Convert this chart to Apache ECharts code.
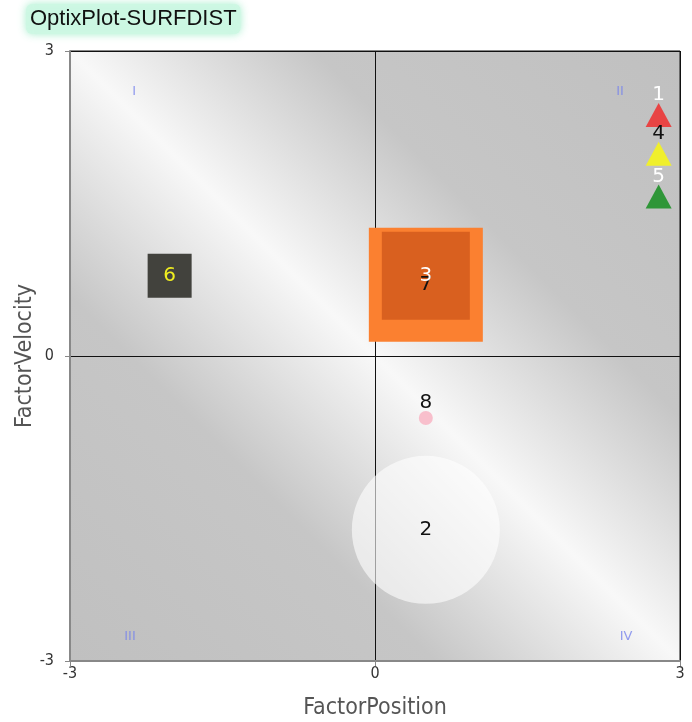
<!DOCTYPE html>
<html lang="en">
<head>
  <meta charset="UTF-8">
  <title>OptixPlot-SURFDIST</title>
  <script src="https://cdn.jsdelivr.net/npm/echarts@6/dist/echarts.min.js"></script>
  <style>
    html, body { margin: 0; padding: 0; background: #fff; }
    #chart { width: 692px; height: 722px; }
  </style>
</head>
<body>
  <div id="chart"></div>
  <script>
    // point data
    var pointNames = ['1', '2', '3', '4', '5', '6', '7', '8'];
    var pointX = [2.79, 0.5, 0.5, 2.79, 2.79, -2.02, 0.5, 0.5];
    var pointY = [2.37, -1.71, 0.79, 1.99, 1.57, 0.79, 0.70, -0.61];

    // quadrant captions
    var quadNames = ['I', 'II', 'III', 'IV'];
    var quadX = [-2.37, 2.41, -2.41, 2.47];
    var quadY = [2.6, 2.6, -2.76, -2.76];

    var axisTicks = [-3, 0, 3];

    var chart = echarts.init(document.getElementById('chart'));

    // look of each point, by name
    var looks = {
      '1': { symbol: 'triangle', size: [26, 24], color: '#e84444', label: '#ffffff', pos: 'top' },
      '2': { symbol: 'circle', size: 148, color: 'rgba(255,255,255,0.6)', label: '#111111', pos: 'inside' },
      '3': { symbol: 'rect', size: 88, color: '#d9601f', label: '#ffffff', pos: 'inside' },
      '4': { symbol: 'triangle', size: [26, 24], color: '#f0ef2c', label: '#111111', pos: 'top' },
      '5': { symbol: 'triangle', size: [26, 24], color: '#2f9638', label: '#ffffff', pos: 'top' },
      '6': { symbol: 'rect', size: 44, color: '#42423d', label: '#f0ee20', pos: 'inside' },
      '7': { symbol: 'rect', size: 114, color: '#fb8030', label: '#111111', pos: 'inside' },
      '8': { symbol: 'circle', size: 14, color: '#f8bfcc', label: '#111111', pos: 'top' }
    };

    // draw order: big shapes first
    var order = ['7', '3', '2', '6', '8', '1', '4', '5'];
    var series = order.map(function (n) {
      var i = pointNames.indexOf(n);
      var lk = looks[n];
      return {
        name: n,
        type: 'scatter',
        symbol: lk.symbol,
        symbolSize: lk.size,
        itemStyle: { color: lk.color, opacity: 1 },
        z: 3,
        label: {
          show: true,
          formatter: n,
          position: lk.pos,
          distance: -2,
          color: lk.label,
          fontFamily: 'DejaVu Sans',
          fontSize: 20
        },
        data: [[pointX[i], pointY[i]]]
      };
    });

    // quadrant captions as label-only points
    series.push({
      type: 'scatter',
      symbolSize: 0,
      z: 4,
      label: {
        show: true,
        formatter: function (p) { return p.name; },
        color: '#7884ec',
        fontFamily: 'DejaVu Sans',
        fontSize: 13
      },
      data: quadNames.map(function (q, i) {
        return { name: q, value: [quadX[i], quadY[i]] };
      })
    });

    var option = {
      animation: false,
      title: {
        text: 'OptixPlot-SURFDIST',
        left: 26,
        top: 4,
        padding: [4, 4],
        backgroundColor: 'rgba(205,248,228,0.95)',
        shadowColor: 'rgba(150,235,195,0.9)',
        shadowBlur: 8,
        borderRadius: 6,
        textStyle: {
          fontFamily: 'Liberation Sans',
          fontWeight: 'normal',
          fontSize: 22,
          color: '#111'
        }
      },
      grid: {
        left: 70,
        right: 12,
        top: 51,
        bottom: 61,
        outerBoundsMode: 'none',
        containLabel: false,
        show: true,
        borderColor: '#111',
        borderWidth: 1,
        backgroundColor: {
          type: 'linear', x: 0, y: 1, x2: 1, y2: 0,
          colorStops: [
            { offset: 0, color: '#c0c0c0' },
            { offset: 0.3, color: '#c6c6c6' },
            { offset: 0.5, color: '#f8f8f8' },
            { offset: 0.7, color: '#c6c6c6' },
            { offset: 1, color: '#c0c0c0' }
          ]
        }
      },
      xAxis: {
        type: 'value',
        min: axisTicks[0],
        max: axisTicks[2],
        interval: 3,
        name: 'FactorPosition',
        nameLocation: 'middle',
        nameGap: 36,
        nameMoveOverlap: false,
        nameTextStyle: { fontFamily: 'DejaVu Sans Condensed', fontSize: 23, color: '#555' },
        axisLine: { onZero: false, lineStyle: { color: '#888', width: 2 } },
        axisTick: { show: true, length: 5, lineStyle: { color: '#888' } },
        axisLabel: { fontFamily: 'DejaVu Sans Condensed', fontSize: 16, color: '#333', margin: 5 },
        splitLine: { show: true, lineStyle: { color: '#111', width: 1 } }
      },
      yAxis: {
        type: 'value',
        min: axisTicks[0],
        max: axisTicks[2],
        interval: 3,
        name: 'FactorVelocity',
        nameLocation: 'middle',
        nameGap: 33,
        nameMoveOverlap: false,
        nameTextStyle: { fontFamily: 'DejaVu Sans Condensed', fontSize: 23, color: '#555' },
        axisLine: { onZero: false, lineStyle: { color: '#888', width: 2 } },
        axisTick: { show: true, length: 5, lineStyle: { color: '#888' } },
        axisLabel: { fontFamily: 'DejaVu Sans Condensed', fontSize: 16, color: '#333', margin: 16 },
        splitLine: { show: true, lineStyle: { color: '#111', width: 1 } }
      },
      series: series
    };

    chart.setOption(option);
  </script>
</body>
</html>
